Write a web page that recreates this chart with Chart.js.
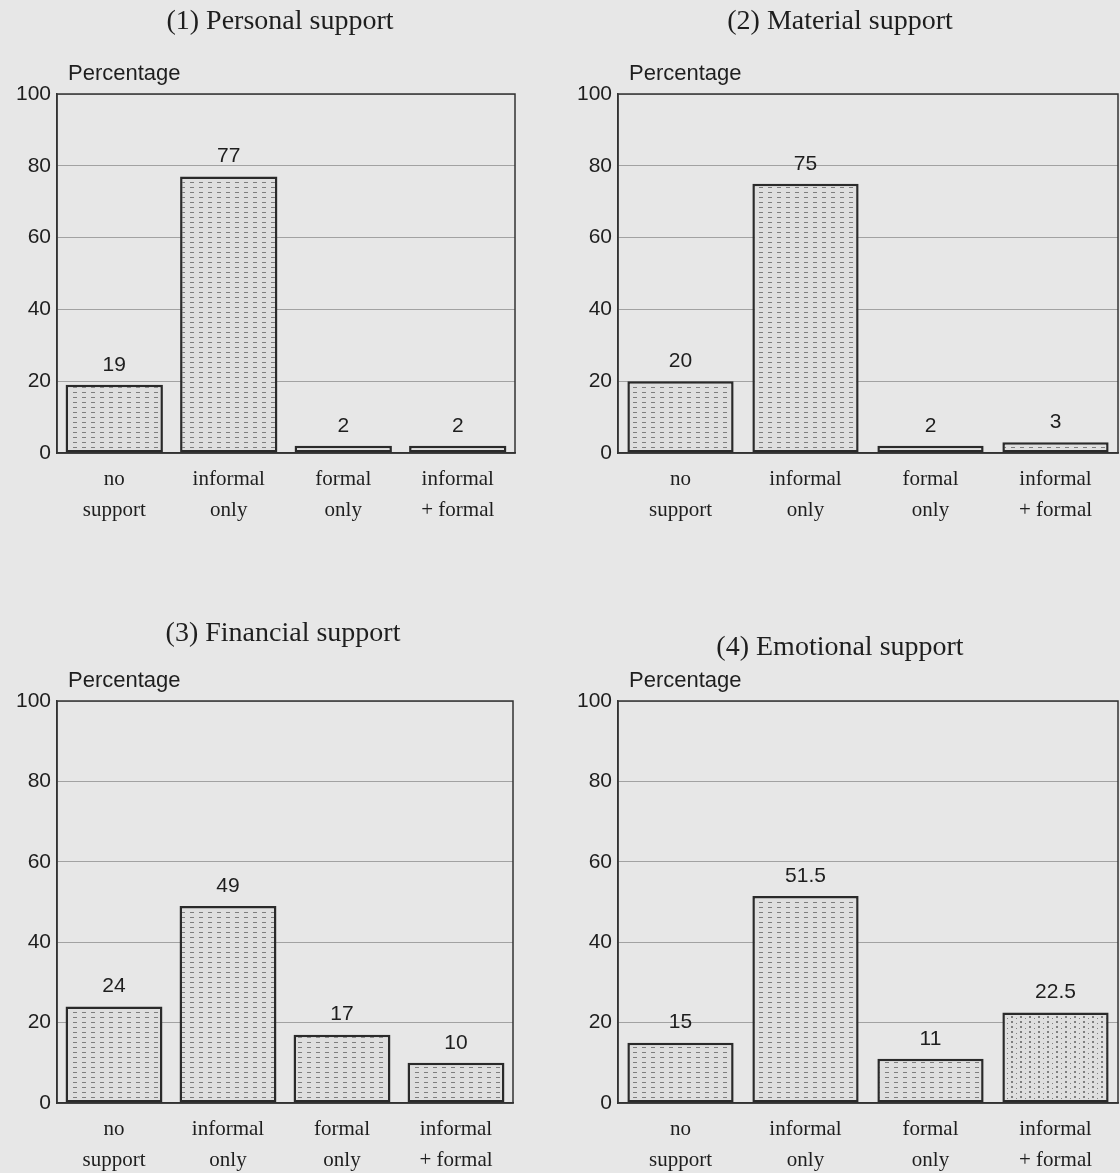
<!DOCTYPE html>
<html>
<head>
<meta charset="utf-8">
<script src="https://cdn.jsdelivr.net/npm/chart.js"></script>
<style>
  html, body { margin: 0; padding: 0; background: #e7e7e7; }
  #wrap { position: relative; width: 1120px; height: 1173px; overflow: hidden; }
  .panel { position: absolute; }
</style>
</head>
<body>
<div id="wrap">
  <div class="panel" style="left:0;top:0;width:560px;height:560px"><canvas id="c1"></canvas></div>
  <div class="panel" style="left:560px;top:0;width:560px;height:560px"><canvas id="c2"></canvas></div>
  <div class="panel" style="left:0;top:600px;width:560px;height:573px"><canvas id="c3"></canvas></div>
  <div class="panel" style="left:560px;top:600px;width:560px;height:573px"><canvas id="c4"></canvas></div>
</div>
<script>
const categories = [['no', 'support'], ['informal', 'only'], ['formal', 'only'], ['informal', '+ formal']];
const yTicks = [0, 20, 40, 60, 80, 100];

const titles = ['(1) Personal support', '(2) Material support', '(3) Financial support', '(4) Emotional support'];
const personal = [19, 77, 2, 2];
const material = [20, 75, 2, 3];
const financial = [24, 49, 17, 10];
const emotional = [15, 51.5, 11, 22.5];
const valueLabels = [
  ['19', '77', '2', '2'],
  ['20', '75', '2', '3'],
  ['24', '49', '17', '10'],
  ['15', '51.5', '11', '22.5']
];

function makePattern(dotted) {
  const p = document.createElement('canvas');
  p.width = 9;
  p.height = 5;
  const g = p.getContext('2d');
  g.fillStyle = '#dfdfdf';
  g.fillRect(0, 0, 9, 5);
  g.fillStyle = '#7e7e7e';
  if (dotted) {
    g.fillRect(1, 1, 2, 2);
    g.fillRect(6, 3, 1, 1);
  } else {
    g.fillRect(1, 2, 4, 1);
  }
  return g.createPattern(p, 'repeat');
}

const dashFill = makePattern(false);
const dotFill = makePattern(true);

// title, "Percentage", frame and value labels
const decor = {
  id: 'decor',
  afterDatasetsDraw(chart, args, opts) {
    const ctx = chart.ctx;
    const a = chart.chartArea;
    ctx.save();
    ctx.fillStyle = '#1e1e1e';
    ctx.textAlign = 'center';
    ctx.textBaseline = 'middle';
    ctx.font = '28px "Liberation Serif"';
    ctx.fillText(opts.title, opts.titleX, opts.titleY);

    ctx.textAlign = 'left';
    ctx.font = '22px "Liberation Sans"';
    ctx.fillText('Percentage', a.left + 11, a.top - 20);

    ctx.strokeStyle = '#333';
    ctx.lineWidth = 1.5;
    ctx.strokeRect(a.left, a.top, a.right - a.left, a.bottom - a.top);

    ctx.textAlign = 'center';
    ctx.font = '21px "Liberation Sans"';
    const meta = chart.getDatasetMeta(0);
    meta.data.forEach((bar, i) => {
      ctx.fillText(opts.labels[i], bar.x, bar.y - 20);
    });
    ctx.restore();
  }
};

function makeChart(id, values, idx, pad, titleX, titleY) {
  new Chart(document.getElementById(id), {
    type: 'bar',
    data: {
      labels: categories,
      datasets: [{
        data: values,
        backgroundColor: [dashFill, dashFill, dashFill, idx === 3 ? dotFill : dashFill],
        borderColor: '#2a2a2a',
        borderWidth: 2.5,
        borderSkipped: false,
        barPercentage: 0.85,
        categoryPercentage: 1
      }]
    },
    options: {
      responsive: true,
      maintainAspectRatio: false,
      animation: false,
      layout: { padding: { left: 0, top: pad.top, right: pad.right, bottom: 0 } },
      plugins: {
        legend: { display: false },
        tooltip: { enabled: false },
        decor: { title: titles[idx], titleX: titleX, titleY: titleY, labels: valueLabels[idx] }
      },
      scales: {
        x: {
          grid: { display: false },
          border: { color: '#333', width: 1.5 },
          ticks: {
            color: '#1e1e1e',
            padding: 3,
            maxRotation: 0,
            autoSkip: false,
            font: { family: '"Liberation Serif"', size: 21, lineHeight: 1.48 }
          },
          afterFit(scale) { scale.height = pad.bottom; }
        },
        y: {
          min: 0,
          max: 100,
          afterBuildTicks(scale) { scale.ticks = yTicks.map(v => ({ value: v })); },
          grid: { color: '#a2a2a2', lineWidth: 1, drawTicks: false },
          border: { color: '#333', width: 1.5 },
          ticks: {
            color: '#1e1e1e',
            padding: 6,
            font: { family: '"Liberation Sans"', size: 21 }
          },
          afterFit(scale) { scale.width = pad.left; }
        }
      }
    },
    plugins: [decor]
  });
}

makeChart('c1', personal, 0, { left: 57, top: 94, right: 45, bottom: 107 }, 280, 22);
makeChart('c2', material, 1, { left: 58, top: 94, right: 2, bottom: 107 }, 280, 22);
makeChart('c3', financial, 2, { left: 57, top: 101, right: 47, bottom: 70 }, 283, 34);
makeChart('c4', emotional, 3, { left: 58, top: 101, right: 2, bottom: 70 }, 280, 48);
</script>
</body>
</html>
